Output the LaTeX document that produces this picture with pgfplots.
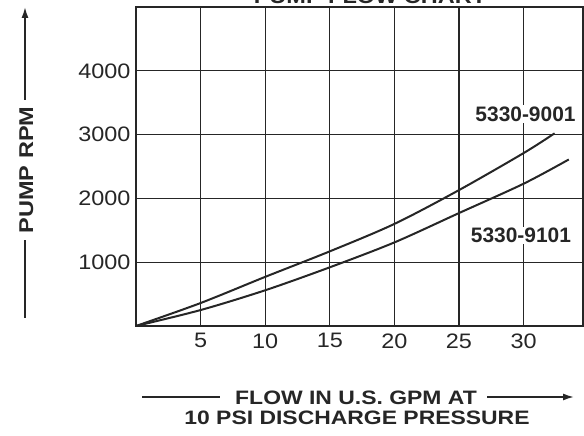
\documentclass[border=0pt]{standalone}
\usepackage{pgfplots}
\pgfplotsset{compat=1.18}
\usepackage{fontspec}
\setmainfont{Liberation Sans}
\newfontfamily\tickfont{Liberation Sans}[FakeStretch=1.12]
\newfontfamily\labfont{Liberation Sans}[FakeStretch=1.18]
\usetikzlibrary{arrows.meta}
\definecolor{ink}{HTML}{262626}
\pgfplotstableread{
x y
0 0
5 360
10 770
15 1170
20 1600
25 2130
30 2710
32.4 3020
}\curveA
\pgfplotstableread{
x y
0 0
5 250
10 560
15 920
20 1310
25 1770
30 2230
33.5 2610
}\curveB
\begin{document}
\begin{tikzpicture}
\begin{axis}[at={(136bp,110bp)}, anchor=south west, scale only axis,
  width=447bp, height=319bp,
  xmin=0, xmax=34.6, ymin=0, ymax=5000,
  xtick={5,10,15,20,25,30}, ytick={1000,2000,3000,4000},
  grid=major, major grid style={ink, line width=1.25bp},
  axis line style={ink, line width=1.25bp},
  major tick length=0pt,
  tick label style={font=\tickfont\fontsize{21}{21}\selectfont, text=ink},
  /pgf/number format/assume math mode=true,
  /pgf/number format/1000 sep={},
  scaled ticks=false,
  xticklabel style={yshift=-4bp},
  yticklabel style={xshift=-2bp},
  clip=false]
\addplot[ink, line width=2bp, smooth, tension=0.5] table[x=x,y=y] {\curveA};
\addplot[ink, line width=2bp, smooth, tension=0.5] table[x=x,y=y] {\curveB};
\node[fill=white, inner sep=1.5bp, text=ink, font=\bfseries\fontsize{21}{21}\selectfont] at (axis cs:30.15,3323) {5330-9001};
\node[fill=white, inner sep=1.5bp, text=ink, font=\bfseries\fontsize{21}{21}\selectfont] at (axis cs:29.8,1418) {5330-9101};
\end{axis}
% y axis label
\node[rotate=90, anchor=base, inner sep=0pt, text=ink, font=\labfont\bfseries\fontsize{20}{20}\selectfont] at (33bp,266bp) {PUMP RPM};
\draw[ink, line width=1.6bp] (25bp,118bp) -- (25bp,196bp);
\draw[ink, line width=1.6bp, -{Latex[length=11bp,width=7bp]}] (25bp,336bp) -- (25bp,429bp);
% x axis label
\node[anchor=base, inner sep=0pt, text=ink, font=\labfont\bfseries\fontsize{19.5}{19.5}\selectfont] at (356bp,32bp) {FLOW IN U.S. GPM AT};
\node[anchor=base, inner sep=0pt, text=ink, font=\labfont\bfseries\fontsize{19.5}{19.5}\selectfont] at (357bp,12bp) {10 PSI DISCHARGE PRESSURE};
\draw[ink, line width=1.6bp] (142bp,39bp) -- (220bp,39bp);
\draw[ink, line width=1.6bp, -{Latex[length=11bp,width=7bp]}] (487bp,39bp) -- (574bp,39bp);
% title, cut off at the top edge as in the reference
\node[anchor=base, inner sep=0pt, text=ink, font=\labfont\bfseries\fontsize{20}{20}\selectfont] at (370bp,432bp) {PUMP FLOW CHART};
\pgfresetboundingbox
\useasboundingbox (0,0) rectangle (584bp,436bp);
\end{tikzpicture}
\end{document}
